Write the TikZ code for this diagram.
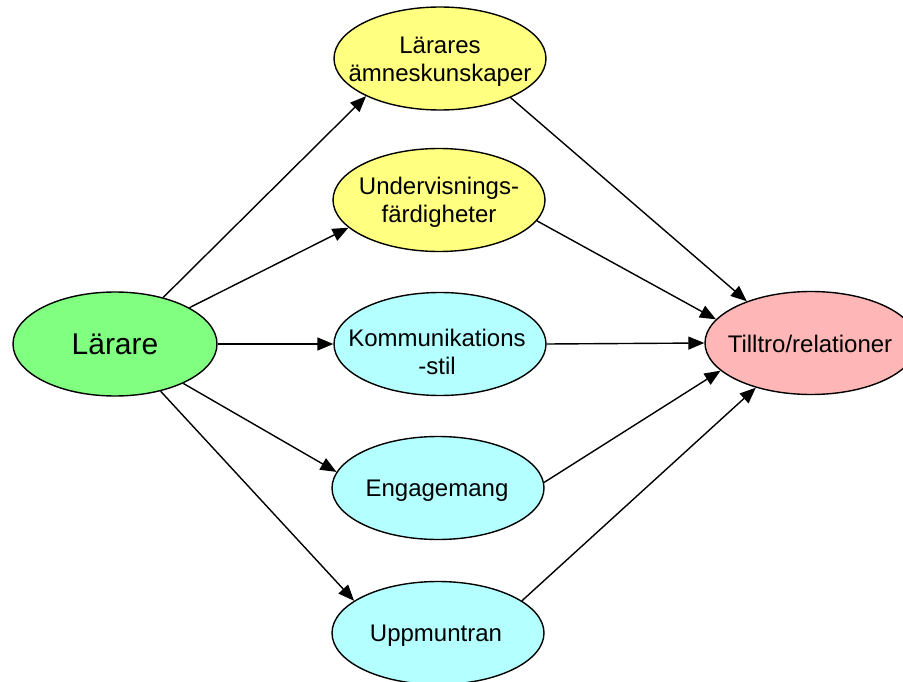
\documentclass[tikz,border=0pt]{standalone}
\usepackage{fontspec}
\setmainfont{Liberation Sans}
\usetikzlibrary{shapes.geometric,arrows.meta}
\definecolor{cgreen}{RGB}{128,255,128}
\definecolor{cyellow}{RGB}{255,255,128}
\definecolor{ccyan}{RGB}{180,255,255}
\definecolor{cpink}{RGB}{255,182,182}
\begin{document}
\begin{tikzpicture}[x=1pt,y=-1pt,
  bub/.style={ellipse, draw=black, line width=1.4pt, minimum width=212pt, minimum height=103pt, inner sep=0pt},
  txt/.style={font=\fontsize{24}{28}\selectfont, align=center, inner sep=0pt},
  bigtxt/.style={font=\fontsize{30}{34}\selectfont, inner sep=0pt},
  arr/.style={-{Triangle[length=16pt,width=13pt]}, line width=1.4pt}]
\useasboundingbox (0,0) rectangle (903,682);
% ellipses
\node[bub, fill=cgreen, minimum width=204pt, minimum height=104pt] (lar) at (115,344) {};
\node[bub, fill=cyellow] (A) at (440,58.5) {};
\node[bub, fill=cyellow] (B) at (439,200) {};
\node[bub, fill=ccyan] (C) at (440,344) {};
\node[bub, fill=ccyan] (D) at (438,488) {};
\node[bub, fill=ccyan] (E) at (438,633) {};
\node[bub, fill=cpink] (T) at (811,343) {};
% texts
\node[bigtxt] (tlar) at (115,344) {Lärare};
\node[txt] (tA) at (440,62) {Lärares\\ämneskunskaper};
\node[txt] (tB) at (439,202) {Undervisnings-\\färdigheter};
\node[txt] (tC) at (437,352) {Kommunikations\\-stil};
\node[txt] (tD) at (437,491) {Engagemang};
\node[txt] (tE) at (436,636) {Uppmuntran};
\node[txt] (tT) at (810,344) {Tilltro/relationer};
% connectors
\draw[arr] (lar.44) -- (A.207);
\draw[arr] (lar.26) -- (B.197);
\draw[arr] (lar.0) -- (C.180);
\draw[arr] (lar.-30) -- (D.171);
\draw[arr] (lar.-46) -- (E.159);
\draw[arr] (A.-29) -- (T.147);
\draw[arr] (B.-12) -- (T.166);
\draw[arr] (C.0) -- (T.180);
\draw[arr] (D.3) -- (T.197);
\draw[arr] (E.21) -- (T.219);
\end{tikzpicture}
\end{document}
